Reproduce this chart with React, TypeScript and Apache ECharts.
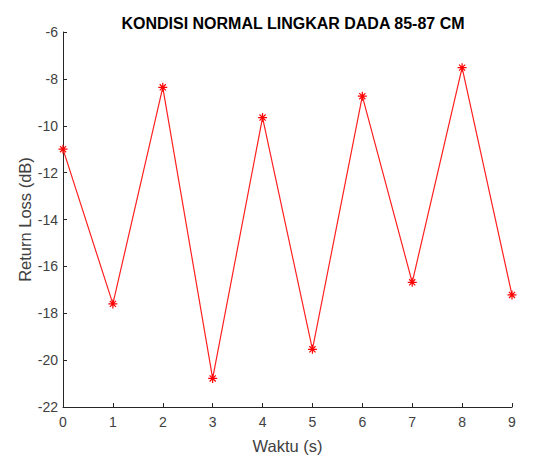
import React, { useEffect, useRef } from "react";
import * as echarts from "echarts";

const titleText = "KONDISI NORMAL LINGKAR DADA 85-87 CM";
const xName = "Waktu (s)";
const yName = "Return Loss (dB)";
const times = [0, 1, 2, 3, 4, 5, 6, 7, 8, 9];
const returnLoss = [-11.0, -17.6, -8.36, -20.78, -9.65, -19.54, -8.74, -16.68, -7.52, -17.22];

const ASTERISK = "path://M5 0L5 10M0 5L10 5M1.6 1.6L8.4 8.4M1.6 8.4L8.4 1.6";

export default function App() {
  const ref = useRef<HTMLDivElement>(null);
  useEffect(() => {
    if (!ref.current) return;
    const chart = echarts.init(ref.current, undefined, { renderer: "svg" });
    const font = "Arial, 'Liberation Sans', Helvetica, sans-serif";
    chart.setOption({
      animation: false,
      backgroundColor: "#ffffff",
      title: {
        text: titleText,
        left: 288,
        textAlign: "center",
        top: 10,
        textStyle: { fontFamily: font, fontSize: 16, fontWeight: "bold", color: "#000000" },
      },
      grid: { left: 63, right: 40, top: 32, bottom: 50, containLabel: false, outerBoundsMode: "none" },
      xAxis: {
        type: "value",
        min: 0,
        max: 9,
        interval: 1,
        name: xName,
        nameLocation: "middle",
        nameGap: 30,
        nameMoveOverlap: false,
        nameTextStyle: { fontFamily: font, fontSize: 16.5, color: "#404040" },
        axisLine: { lineStyle: { color: "#262626", width: 1 } },
        axisTick: { inside: true, length: 4, lineStyle: { color: "#262626" } },
        axisLabel: { fontFamily: font, fontSize: 14, color: "#404040", margin: 8 },
        splitLine: { show: false },
      },
      yAxis: {
        type: "value",
        min: -22,
        max: -6,
        interval: 2,
        name: yName,
        nameLocation: "middle",
        nameGap: 30,
        nameMoveOverlap: false,
        nameTextStyle: { fontFamily: font, fontSize: 16.5, color: "#404040" },
        axisLine: { show: true, lineStyle: { color: "#262626", width: 1 } },
        axisTick: { show: true, inside: true, length: 4, lineStyle: { color: "#262626" } },
        axisLabel: { fontFamily: font, fontSize: 14, color: "#404040", margin: 5 },
        splitLine: { show: false },
      },
      series: [
        {
          type: "line",
          data: times.map((t, i) => [t, returnLoss[i]]),
          lineStyle: { color: "#ff2020", width: 1.2 },
          symbol: ASTERISK,
          symbolSize: 9,
          showAllSymbol: true,
          itemStyle: { color: "#ff0000", borderColor: "#ff0000", borderWidth: 1.2 },
        },
      ],
    });
    return () => chart.dispose();
  }, []);
  return <div ref={ref} style={{ width: 552, height: 457, position: "absolute", left: 0, top: 0 }} />;
}
